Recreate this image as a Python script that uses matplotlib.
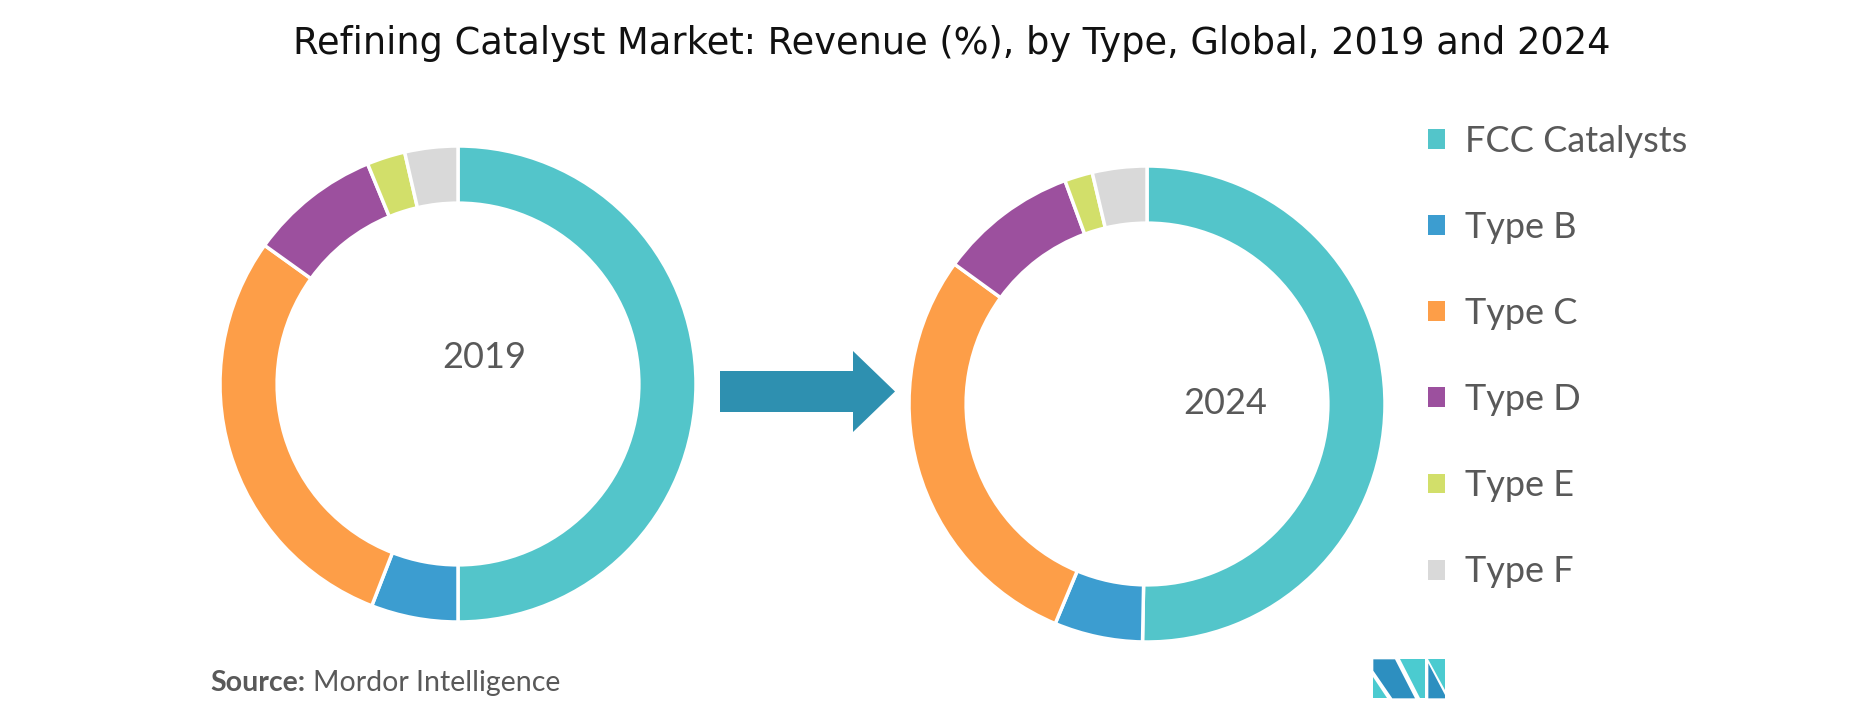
import matplotlib
matplotlib.use("Agg")
import matplotlib.pyplot as plt
from matplotlib.patches import Patch, Polygon

# data
categories = ["FCC Catalysts", "Type B", "Type C", "Type D", "Type E", "Type F"]
share_2019 = [50.0, 5.9, 29.0, 8.9, 2.6, 3.6]
share_2024 = [50.3, 6.0, 28.7, 9.4, 1.9, 3.7]
colors = ["#53C5CA", "#3C9DD0", "#FD9E48", "#9C509E", "#D2DF6A", "#D9D9D9"]
years = ["2019", "2024"]

W, H = 1857, 718
TXT = "#595959"

fig = plt.figure(figsize=(W / 100, H / 100), dpi=100)

# overlay axes in pixel coords for the arrow and logo
bg = fig.add_axes([0, 0, 1, 1])
bg.set_xlim(0, W)
bg.set_ylim(H, 0)
bg.axis("off")


def donut(cx, cy, r, values, label, lx, ly):
    ax = fig.add_axes([(cx - r) / W, (H - cy - r) / H, 2 * r / W, 2 * r / H])
    ax.pie(values, colors=colors, startangle=90, counterclock=False, radius=1,
           wedgeprops=dict(width=0.24, edgecolor="white", linewidth=2.5))
    ax.set_xlim(-1, 1)
    ax.set_ylim(-1, 1)
    ax.set_aspect("equal")
    ax.axis("off")
    ax.text(lx, ly, label, ha="center", va="center", fontsize=26,
            family="Lato", color=TXT)
    return ax


donut(458, 384, 238, share_2019, years[0], 0.11, 0.11)
donut(1147, 404, 238, share_2024, years[1], 0.33, 0.0)

# arrow between the two donuts
arrow = [(720, 371), (853, 371), (853, 351), (895, 391.5),
         (853, 432), (853, 412), (720, 412)]
bg.add_patch(Polygon(arrow, closed=True, color="#2E90B0", lw=0))

# legend
handles = [Patch(facecolor=c, edgecolor="none") for c in colors]
leg = fig.legend(handles, categories, loc="upper left",
                 bbox_to_anchor=(1428 / W, 1 - 125 / H), frameon=False,
                 prop=dict(family="Lato", size=26), labelcolor=TXT,
                 handlelength=0.47, handleheight=0.47, handletextpad=0.55,
                 labelspacing=1.47, borderpad=0, borderaxespad=0)

fig.text(952 / W, 1 - 44 / H,
         "Refining Catalyst Market: Revenue (%), by Type, Global, 2019 and 2024",
         ha="center", va="center", fontsize=26.5, color="#111111")

src = fig.text(210 / W, 1 - 683 / H, "Source:", ha="left", va="center",
               fontsize=20.5, family="Lato", weight="bold", color=TXT)
fig.canvas.draw()
x_end = src.get_window_extent().x1
fig.text((x_end + 8) / W, 1 - 683 / H, "Mordor Intelligence", ha="left",
         va="center", fontsize=20.5, family="Lato", color=TXT)

# small logo
ox, oy = 1300, 630
def lp(pts):
    return [(ox + x / 3, oy + y / 3) for x, y in pts]

bg.add_patch(Polygon(lp([(220, 140), (220, 205), (262, 205)]), color="#4BCBD0", lw=0))
bg.add_patch(Polygon(lp([(220, 88), (285, 88), (345, 205), (277, 205), (220, 122)]),
                     color="#2D8FC0", lw=0))
bg.add_patch(Polygon(lp([(300, 88), (375, 88), (375, 205), (360, 205)]),
                     color="#4BCBD0", lw=0))
bg.add_patch(Polygon(lp([(385, 88), (435, 88), (435, 180)]), color="#4BCBD0", lw=0))
bg.add_patch(Polygon(lp([(385, 100), (435, 195), (435, 205), (385, 205)]),
                     color="#2D8FC0", lw=0))

fig.savefig("out.png", dpi=100)
